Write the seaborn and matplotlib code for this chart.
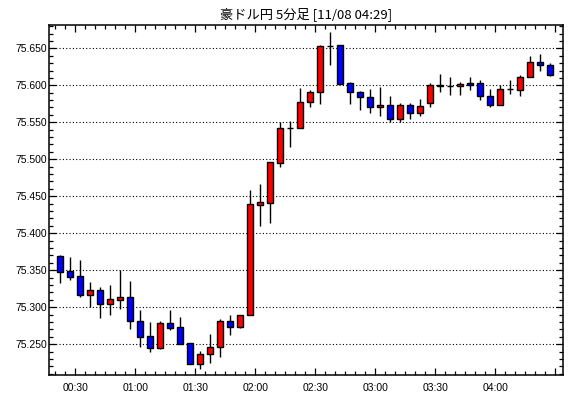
import pandas as pd
import matplotlib
matplotlib.use("Agg")
import matplotlib.pyplot as plt
import matplotlib.dates as mdates
from matplotlib.ticker import MultipleLocator, FormatStrFormatter, FuncFormatter
import seaborn as sns

sns.set_theme(style="white")
plt.rcParams['font.family'] = ['Liberation Sans', 'Noto Sans CJK JP', 'DejaVu Sans']

# =====================
# 5-minute candles (AUD/JPY)
# =====================
start_time = "2024-11-08 00:20"
n_candles = 50

opens = [75.369, 75.349, 75.342, 75.317, 75.323, 75.304, 75.310, 75.314, 75.282, 75.261,
         75.245, 75.279, 75.273, 75.252, 75.223, 75.237, 75.247, 75.282, 75.274, 75.290,
         75.438, 75.441, 75.495, 75.542, 75.542, 75.577, 75.591, 75.653, 75.654, 75.603,
         75.591, 75.584, 75.570, 75.574, 75.554, 75.573, 75.563, 75.576, 75.600, 75.599,
         75.599, 75.603, 75.603, 75.586, 75.573, 75.595, 75.594, 75.611, 75.632, 75.627]
closes = [75.348, 75.341, 75.317, 75.323, 75.304, 75.311, 75.314, 75.281, 75.260, 75.245,
          75.279, 75.272, 75.251, 75.223, 75.237, 75.247, 75.282, 75.274, 75.290, 75.439,
          75.442, 75.496, 75.542, 75.542, 75.577, 75.591, 75.653, 75.653, 75.602, 75.591,
          75.584, 75.570, 75.574, 75.554, 75.573, 75.563, 75.572, 75.600, 75.599, 75.599,
          75.602, 75.601, 75.585, 75.573, 75.595, 75.595, 75.611, 75.632, 75.627, 75.614]
highs = [75.371, 75.368, 75.364, 75.334, 75.327, 75.330, 75.350, 75.336, 75.296, 75.280,
         75.281, 75.296, 75.287, 75.252, 75.241, 75.264, 75.284, 75.289, 75.290, 75.458,
         75.467, 75.496, 75.550, 75.552, 75.597, 75.594, 75.655, 75.672, 75.654, 75.604,
         75.592, 75.595, 75.598, 75.586, 75.576, 75.576, 75.581, 75.603, 75.615, 75.611,
         75.605, 75.611, 75.607, 75.595, 75.600, 75.607, 75.614, 75.639, 75.642, 75.630]
lows = [75.333, 75.337, 75.314, 75.300, 75.286, 75.290, 75.298, 75.271, 75.247, 75.240,
        75.243, 75.269, 75.251, 75.223, 75.217, 75.225, 75.233, 75.262, 75.272, 75.290,
        75.410, 75.414, 75.489, 75.517, 75.542, 75.571, 75.575, 75.627, 75.602, 75.575,
        75.567, 75.563, 75.558, 75.550, 75.550, 75.555, 75.558, 75.570, 75.591, 75.587,
        75.587, 75.594, 75.580, 75.571, 75.573, 75.588, 75.586, 75.611, 75.620, 75.613]

title = "豪ドル円 5分足 [11/08 04:29]"

df = pd.DataFrame({
    'time': pd.date_range(start_time, periods=n_candles, freq="5min"),
    'open': opens, 'high': highs, 'low': lows, 'close': closes,
})
# candle drawn in the middle of its 5-minute period
df['x'] = df['time'] + pd.Timedelta(minutes=2.5)
df['bottom'] = df[['open', 'close']].min(axis=1)
df['height'] = (df['close'] - df['open']).abs()
df['color'] = ['#ff0000' if c > o else '#0000ff' for o, c in zip(df['open'], df['close'])]

last_label = mdates.date2num(df['time'].iloc[-1])

# =====================
# Plot
# =====================
fig = plt.figure(figsize=(5.70, 3.98), dpi=100)
fig.patch.set_facecolor('white')
ax = fig.add_axes([0.0868, 0.0578, 0.9009, 0.8794])
ax.set_facecolor('white')

ax.vlines(df['x'], df['low'], df['high'], color='black', linewidth=1.0, zorder=2)
ax.bar(df['x'], df['height'], bottom=df['bottom'], width=3 / 1440,
       color=df['color'], edgecolor='black', linewidth=1.0, zorder=3)

ax.set_xlim(pd.Timestamp("2024-11-08 00:17:06"), pd.Timestamp("2024-11-08 04:33:54"))
ax.set_ylim(75.2085, 75.6815)

# no label on the tick past the last candle
def time_label(v, pos):
    if v > last_label:
        return ''
    return mdates.num2date(v).strftime("%H:%M")

ax.xaxis.set_major_locator(mdates.MinuteLocator(byminute=[0, 30]))
ax.xaxis.set_minor_locator(mdates.MinuteLocator(byminute=range(0, 60, 5)))
ax.xaxis.set_major_formatter(FuncFormatter(time_label))
ax.yaxis.set_major_locator(MultipleLocator(0.05))
ax.yaxis.set_minor_locator(MultipleLocator(0.01))
ax.yaxis.set_major_formatter(FormatStrFormatter("%.3f"))

ax.tick_params(which='both', direction='in', top=True, right=True, bottom=True, left=True,
               colors='black', labelcolor='black', width=0.9, labelsize=7.5)
ax.tick_params(which='major', length=5)
ax.tick_params(which='minor', length=3)
ax.tick_params(axis='x', which='major', pad=6)
ax.tick_params(axis='y', which='major', pad=2)

ax.yaxis.grid(True, which='major', color='black', linestyle=(0, (1, 2)), linewidth=0.8)
ax.xaxis.grid(False)
ax.set_axisbelow(True)

for s in ax.spines.values():
    s.set_color('black')
    s.set_linewidth(1.1)

ax.set_title(title, fontsize=9.5, pad=5, color='black', family=['Noto Sans CJK JP', 'DejaVu Sans'])
ax.set_xlabel('')
ax.set_ylabel('')

fig.savefig('out.png', dpi=100)
